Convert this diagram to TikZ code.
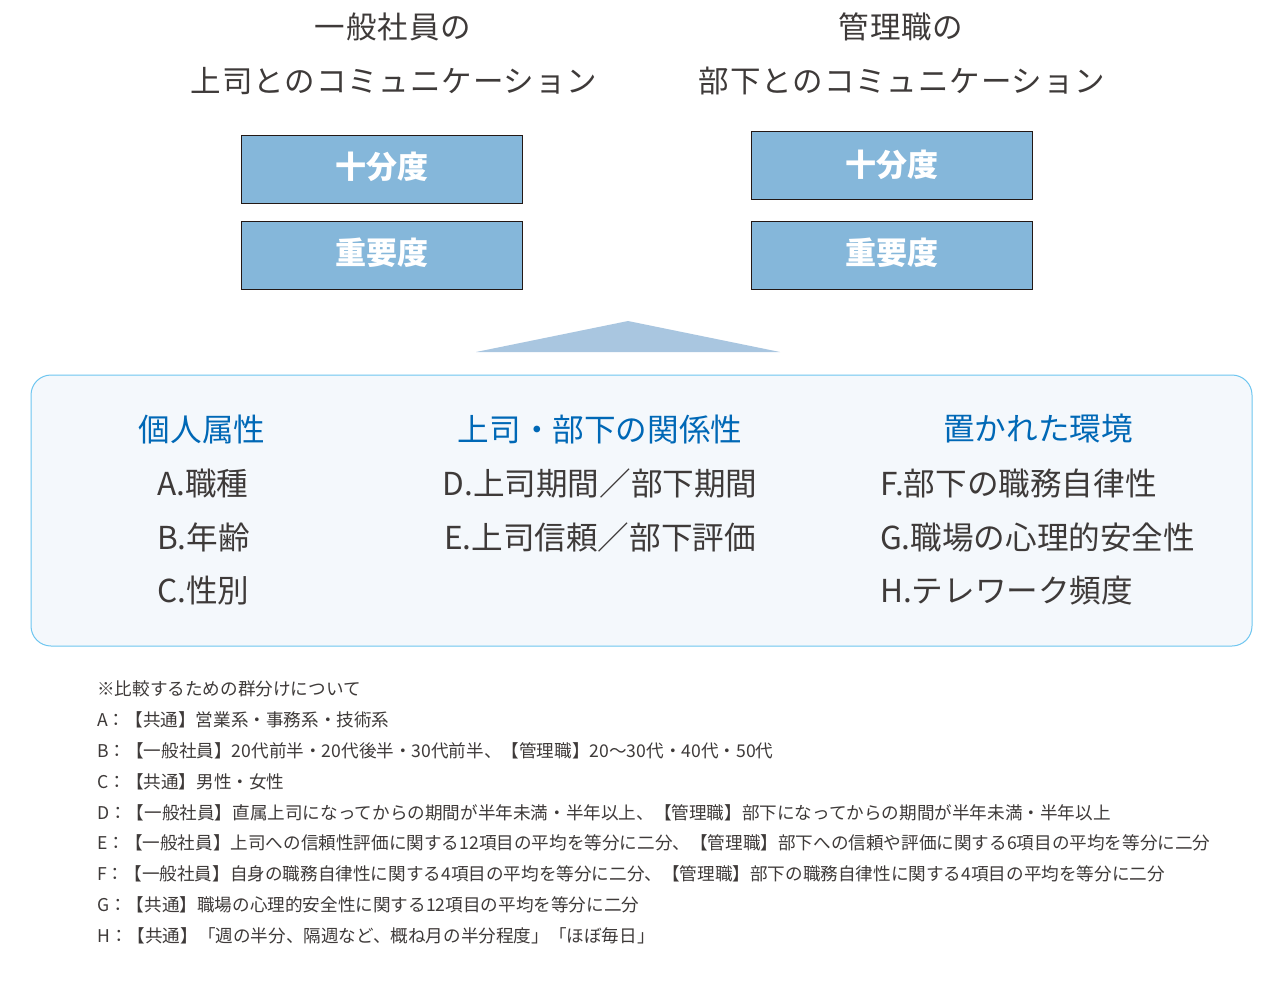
\documentclass[tikz,border=0pt]{standalone}
\usepackage{fontspec}
\setmainfont{Noto Sans CJK JP}
\newfontfamily\jpwide[LetterSpace=3]{Noto Sans CJK JP}
\definecolor{ink}{HTML}{3E3A39}
\definecolor{barfill}{HTML}{85B7DA}
\definecolor{edge}{HTML}{231815}
\definecolor{trifill}{HTML}{A9C6E0}
\definecolor{panelline}{HTML}{6EC6F0}
\definecolor{panelfill}{HTML}{F4F8FC}
\definecolor{headblue}{HTML}{0068B6}
\begin{document}
\begin{tikzpicture}[x=1pt,y=-1pt,
  ttl/.style={text=ink, font=\jpwide\fontsize{30.5}{30.5}\selectfont, inner sep=0pt},
  bar/.style={draw=edge, line width=0.9pt, fill=barfill, minimum width=281pt, minimum height=68pt, inner sep=0pt},
  bartext/.style={text=white, font=\bfseries\fontsize{31}{31}\selectfont, inner sep=0pt},
  tri/.style={fill=trifill},
  panel/.style={draw=panelline, line width=1pt, fill=panelfill, rounded corners=20pt, minimum width=1221pt, minimum height=271pt, inner sep=0pt},
  head/.style={text=headblue, font=\fontsize{31.6}{31.6}\selectfont, inner sep=0pt},
  item/.style={text=ink, font=\fontsize{31.6}{31.6}\selectfont, inner sep=0pt},
  note/.style={text=ink, font=\fontsize{17.6}{17.6}\selectfont, inner sep=0pt, anchor=west}]
\fill[white] (0,0) rectangle (1280,986);
\path[use as bounding box] (0,0) rectangle (1280,986);
% titles
\node[ttl] (t1a) at (393,27) {一般社員の};
\node[ttl] (t1b) at (394,81) {上司とのコミュニケーション};
\node[ttl] (t2a) at (901,27) {管理職の};
\node[ttl] (t2b) at (902,81) {部下とのコミュニケーション};
% bars
\node[bar] (l1) at (381.5,169) {};
\node[bartext] (l1t) at ([yshift=2.5pt]l1.center) {十分度};
\node[bar] (l2) at (381.5,255.5) {};
\node[bartext] (l2t) at ([yshift=2.5pt]l2.center) {重要度};
\node[bar] (r1) at (891.5,165) {};
\node[bartext] (r1t) at ([yshift=0.5pt]r1.center) {十分度};
\node[bar] (r2) at (891.5,255.5) {};
\node[bartext] (r2t) at ([yshift=2.5pt]r2.center) {重要度};
% triangle
\coordinate (ta) at (628,321);
\coordinate (tl) at (476,352);
\coordinate (tr) at (780,352);
\fill[tri] (tl) -- (ta) -- (tr) -- cycle;
% panel
\node[panel] (panel) at (641.5,510.5) {};
\node[head] (h1) at (202,429) {個人属性};
\node[head] (h2) at (600,429) {上司・部下の関係性};
\node[head] (h3) at (1038,429) {置かれた環境};
\node[item, anchor=west] (a) at (157,483) {A.職種};
\node[item, anchor=west] (b) at (157,537) {B.年齢};
\node[item, anchor=west] (c) at (157,591) {C.性別};
\node[item] (d) at (600,483) {D.上司期間／部下期間};
\node[item] (e) at (600,537) {E.上司信頼／部下評価};
\node[item, anchor=west] (f) at (880,483) {F.部下の職務自律性};
\node[item, anchor=west] (g) at (880,537) {G.職場の心理的安全性};
\node[item, anchor=west] (h) at (880,591) {H.テレワーク頻度};
% notes
\node[note] (n0) at (97,689) {※比較するための群分けについて};
\node[note] (nA) at (97,720) {A：【共通】営業系・事務系・技術系};
\node[note] (nB) at (97,751) {B：【一般社員】20代前半・20代後半・30代前半、【管理職】20〜30代・40代・50代};
\node[note] (nC) at (97,782) {C：【共通】男性・女性};
\node[note] (nD) at (97,813) {D：【一般社員】直属上司になってからの期間が半年未満・半年以上、【管理職】部下になってからの期間が半年未満・半年以上};
\node[note] (nE) at (97,843) {E：【一般社員】上司への信頼性評価に関する12項目の平均を等分に二分、【管理職】部下への信頼や評価に関する6項目の平均を等分に二分};
\node[note] (nF) at (97,874) {F：【一般社員】自身の職務自律性に関する4項目の平均を等分に二分、【管理職】部下の職務自律性に関する4項目の平均を等分に二分};
\node[note] (nG) at (97,905) {G：【共通】職場の心理的安全性に関する12項目の平均を等分に二分};
\node[note] (nH) at (97,936) {H：【共通】「週の半分、隔週など、概ね月の半分程度」「ほぼ毎日」};
\end{tikzpicture}
\end{document}
